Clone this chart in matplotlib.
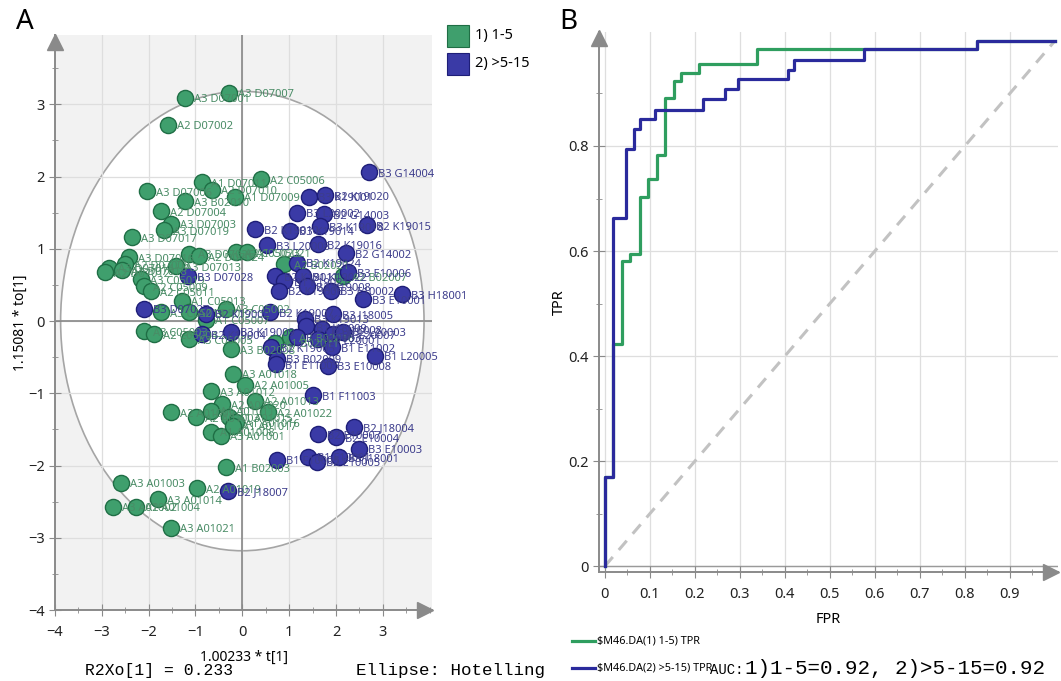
import matplotlib
matplotlib.use("Agg")
import matplotlib.pyplot as plt
from matplotlib.patches import Ellipse, Rectangle
from matplotlib.lines import Line2D
from matplotlib.ticker import MultipleLocator, FixedLocator

plt.rcParams['font.family'] = ['Noto Sans', 'DejaVu Sans']

# ---- datos panel A (OPLS-DA scores) ----
green_x = [-0.28, -1.22, -1.59, 0.39, -0.86, -0.64, -2.04, -0.15, -1.22, -1.74,
           -1.52, -1.67, -2.36, -2.42, -2.51, -2.85, -2.94, -2.58, -1.14, -0.92,
           -0.13, 0.09, -1.42, -2.17, -2.10, -1.95, -1.29, -1.74, -1.14, -0.77,
           -0.34, -2.10, -1.89, -1.14, -0.24, -0.19, 0.06, -0.67, 0.28, -0.43,
           -1.52, -0.99, -0.67, -0.28, -0.13, 0.54, -0.67, -0.45, -0.20, -0.34,
           -0.97, -2.60, -2.77, -2.27, -1.80, -1.52, 0.90, 2.15, 1.01, 0.70]
green_y = [3.16, 3.09, 2.72, 1.96, 1.92, 1.82, 1.80, 1.72, 1.66, 1.52,
           1.35, 1.26, 1.16, 0.88, 0.79, 0.74, 0.68, 0.70, 0.93, 0.90,
           0.95, 0.95, 0.76, 0.58, 0.48, 0.41, 0.28, 0.12, 0.12, 0.02,
           0.17, -0.14, -0.18, -0.25, -0.39, -0.73, -0.88, -0.97, -1.10, -1.15,
           -1.26, -1.33, -1.24, -1.33, -1.40, -1.26, -1.53, -1.59, -1.45, -2.02,
           -2.31, -2.24, -2.57, -2.57, -2.47, -2.86, 0.79, 0.62, -0.22, -0.30]
green_lab = ["A3 D07007", "A3 D07001", "A2 D07002", "A2 C05006", "A1 D07011",
             "A2 D07010", "A3 D07006", "A1 D07009", "A3 B02010", "A2 D07004",
             "A3 D07003", "A3 D07019", "A3 D07017", "A3 D07016", "A2 D07008",
             "A3 D07014", "A2 D07012", "A1 D07018", "A3 D07026", "A2 D07024",
             "A2 C05023", "A1 C05021", "A3 D07013", "A3 C05019", "A2 C05009",
             "A2 C05011", "A1 C05013", "A3 C05015", "A2 C05017", "A1 C05007",
             "A3 C05002", "A3 C05003", "A2 C05004", "A3 C05005", "A3 B02008",
             "A3 A01018", "A2 A01005", "A3 A01012", "A2 A01013", "A2 A01020",
             "A2 A01009", "A2 A01003", "A1 A01011", "A1 A01015", "A1 A01016",
             "A2 A01022", "A1 A01008", "A3 A01001", "A1 A01017", "A1 B02003",
             "A2 A01019", "A3 A01003", "A3 A01002", "A2 A01004", "A3 A01014",
             "A3 A01021", "A2 B02021", "A2 B02007", "A3 B02016", "A1 B02011"]

blue_x = [2.70, 1.42, 1.76, 1.16, 1.74, 2.66, 0.28, 1.01, 1.65, 0.52,
          1.61, 2.21, 1.16, 0.69, 0.90, 1.29, 0.79, 1.39, 1.89, 2.25,
          2.58, 3.41, 0.60, 1.93, 1.33, 1.37, 1.70, 1.93, 2.15, 0.62,
          0.73, 1.16, 1.61, 1.82, 2.83, 1.91, 0.71, -1.16, -2.10, -0.77,
          -0.86, -0.24, 1.50, 2.38, 1.61, 2.00, 2.49, 0.75, 1.40, 1.59,
          2.06, -0.30]
blue_y = [2.06, 1.72, 1.74, 1.50, 1.48, 1.33, 1.27, 1.25, 1.31, 1.05,
          1.06, 0.94, 0.81, 0.62, 0.55, 0.62, 0.42, 0.48, 0.42, 0.68,
          0.30, 0.37, 0.12, 0.10, 0.03, -0.07, -0.11, -0.18, -0.15, -0.36,
          -0.52, -0.22, -0.25, -0.62, -0.48, -0.36, -0.60, 0.62, 0.17, 0.10,
          -0.18, -0.15, -1.03, -1.46, -1.57, -1.61, -1.77, -1.92, -1.88, -1.95,
          -1.88, -2.35]
blue_lab = ["B3 G14004", "B3 K19001", "B2 K19020", "B3 L20002", "B2 G14003",
            "B2 K19015", "B2 K19010", "B3 K19014", "B3 K19018", "B3 L20008",
            "B2 K19016", "B2 G14002", "B2 K19024", "B2 K19011", "B1 K19021",
            "B1 K19022", "B2 K19006", "B2 K19008", "B3 E10002", "B3 E10006",
            "B3 E10001", "B3 H18001", "B2 K19007", "B3 J18005", "B3 K19013",
            "B1 J18009", "B3 J18008", "B1 L20007", "B2 L20003", "B2 K19005",
            "B3 B02009", "B1 K19003", "B1 L20001", "B3 E10008", "B1 L20005",
            "B1 E11002", "B1 E11005", "B3 D07028", "B3 D07027", "B2 K19002",
            "B2 K19004", "B3 K19009", "B1 F11003", "B2 J18004", "B2 E10007",
            "B2 E10004", "B3 E10003", "B1 F10005", "B1 F10001", "B2 E10005",
            "B3 J18001", "B2 J18007"]

# ---- datos panel B (ROC) ----
green_fpr = [0, 0, 0.0185, 0.0385, 0.0548, 0.078, 0.095, 0.115, 0.133, 0.153,
             0.170, 0.209, 0.339, 0.828, 1.0]
green_tpr = [0, 0.170, 0.423, 0.581, 0.594, 0.703, 0.737, 0.782, 0.891, 0.924,
             0.938, 0.956, 0.984, 1.0, 1.0]
blue_fpr = [0, 0, 0.0185, 0.048, 0.065, 0.078, 0.111, 0.218, 0.267, 0.296,
            0.407, 0.420, 0.576, 0.828, 1.0]
blue_tpr = [0, 0.170, 0.662, 0.794, 0.832, 0.851, 0.869, 0.889, 0.908, 0.928,
            0.945, 0.964, 0.984, 1.0, 1.0]

GREEN_F, GREEN_E, GREEN_T = "#3f9f6d", "#1f6e45", "#4a8c66"
BLUE_F, BLUE_E, BLUE_T = "#3a3aa6", "#1e1e78", "#3d3d8c"
AX_C = "#8a8a8a"
GRID_C = "#dedede"

fig = plt.figure(figsize=(10.61, 6.81), dpi=100)

# ================= Panel A =================
axA = fig.add_axes([55/1061, 71/681, 377/1061, 575/681])
axA.set_xlim(-4, 4.05)
axA.set_ylim(-4, 3.96)
axA.set_facecolor("#f2f2f2")
axA.add_patch(Ellipse((0, 0), 2*3.88, 2*3.18, facecolor="white",
                      edgecolor="#a5a5a5", lw=1.2, zorder=0.5))
for v in range(-3, 4):
    axA.axvline(v, color=GRID_C, lw=0.9, zorder=0.6)
    axA.axhline(v, color=GRID_C, lw=0.9, zorder=0.6)
axA.axvline(0, color="#8f8f8f", lw=1.3, zorder=0.7)
axA.axhline(0, color="#8f8f8f", lw=1.3, zorder=0.7)

axA.scatter(green_x, green_y, s=135, c=GREEN_F, edgecolors=GREEN_E, linewidths=1.0, zorder=2)
axA.scatter(blue_x, blue_y, s=135, c=BLUE_F, edgecolors=BLUE_E, linewidths=1.0, zorder=3)
for x, y, t in zip(green_x, green_y, green_lab):
    axA.annotate(t, (x, y), xytext=(6.5, -1.5), textcoords="offset points",
                 fontsize=8, color=GREEN_T, va="center", ha="left", zorder=4)
for x, y, t in zip(blue_x, blue_y, blue_lab):
    axA.annotate(t, (x, y), xytext=(6.5, -1.5), textcoords="offset points",
                 fontsize=8, color=BLUE_T, va="center", ha="left", zorder=4)

axA.xaxis.set_major_locator(FixedLocator([-4, -3, -2, -1, 0, 1, 2, 3]))
axA.yaxis.set_major_locator(FixedLocator([-4, -3, -2, -1, 0, 1, 2, 3]))
axA.xaxis.set_minor_locator(MultipleLocator(0.5))
axA.yaxis.set_minor_locator(MultipleLocator(0.5))
for s in ["top", "right"]:
    axA.spines[s].set_visible(False)
for s in ["left", "bottom"]:
    axA.spines[s].set_color(AX_C)
    axA.spines[s].set_linewidth(1.4)
axA.tick_params(which="major", direction="inout", length=8, color=AX_C,
                labelsize=10.5, labelcolor="#222222")
axA.tick_params(axis="x", which="major", pad=7)
axA.tick_params(which="minor", direction="inout", length=5, color=AX_C)
axA.plot([0], [0.988], marker="^", ms=11, color=AX_C, transform=axA.transAxes, clip_on=False)
axA.plot([0.981], [0], marker=">", ms=11, color=AX_C, transform=axA.transAxes, clip_on=False)
axA.set_xlabel("1.00233 * t[1]", fontsize=10, labelpad=7)
axA.set_ylabel("1.15081 * to[1]", fontsize=10, labelpad=0)

fig.text(25/1061, 1 - 22/681, "A", fontsize=20, ha="center", va="center")
fig.text(85/1061, 1 - 670/681, "R2Xo[1] = 0.233", family="Liberation Mono",
         fontsize=11.8, ha="left", va="center")
fig.text(356/1061, 1 - 670/681, "Ellipse: Hotelling", family="Liberation Mono",
         fontsize=12.6, ha="left", va="center")

# leyenda A
fig.patches.append(Rectangle((447/1061, 1 - 47/681), 22/1061, 22/681, transform=fig.transFigure,
                             facecolor=GREEN_F, edgecolor=GREEN_E, lw=0.8))
fig.patches.append(Rectangle((447/1061, 1 - 75/681), 22/1061, 22/681, transform=fig.transFigure,
                             facecolor=BLUE_F, edgecolor=BLUE_E, lw=0.8))
fig.text(475/1061, 1 - 36/681, "1) 1-5", fontsize=10.5, va="center")
fig.text(475/1061, 1 - 64/681, "2) >5-15", fontsize=10.5, va="center")

# ================= Panel B =================
axB = fig.add_axes([599/1061, 109/681, 459/1061, 540/681])
axB.set_xlim(-0.013, 1.007)
axB.set_ylim(-0.011, 1.017)
for v in [i / 10 for i in range(0, 10)]:
    axB.axvline(v, color=GRID_C, lw=0.9, zorder=0.5)
for v in [0, 0.2, 0.4, 0.6, 0.8]:
    axB.axhline(v, color=GRID_C, lw=0.9, zorder=0.5)
axB.axhline(0, color="#9a9a9a", lw=1.0, zorder=0.6)
axB.plot([0, 1], [0, 1], color="#c2c2c2", lw=2.2, dashes=(4, 3), zorder=1)
axB.step(green_fpr, green_tpr, where="post", color="#2f9e5f", lw=2.3, zorder=2)
axB.step(blue_fpr, blue_tpr, where="post", color="#2a2a9c", lw=2.3, zorder=3)

axB.xaxis.set_major_locator(FixedLocator([i / 10 for i in range(10)]))
axB.xaxis.set_minor_locator(FixedLocator([i / 20 for i in range(1, 20, 2)]))
axB.yaxis.set_major_locator(FixedLocator([0, 0.2, 0.4, 0.6, 0.8]))
axB.yaxis.set_minor_locator(FixedLocator([0.1, 0.3, 0.5, 0.7, 0.9]))
axB.set_xticklabels(["0", "0.1", "0.2", "0.3", "0.4", "0.5", "0.6", "0.7", "0.8", "0.9"])
axB.set_yticklabels(["0", "0.2", "0.4", "0.6", "0.8"])
for s in ["top", "right"]:
    axB.spines[s].set_visible(False)
for s in ["left", "bottom"]:
    axB.spines[s].set_color(AX_C)
    axB.spines[s].set_linewidth(1.4)
axB.tick_params(which="major", direction="inout", length=8, color=AX_C,
                labelsize=10.5, labelcolor="#222222")
axB.tick_params(axis="x", which="major", pad=7)
axB.tick_params(which="minor", direction="inout", length=5, color=AX_C)
axB.plot([0], [0.988], marker="^", ms=11, color=AX_C, transform=axB.transAxes, clip_on=False)
axB.plot([0.985], [0], marker=">", ms=11, color=AX_C, transform=axB.transAxes, clip_on=False)
axB.set_xlabel("FPR", fontsize=10.5, labelpad=7)
axB.set_ylabel("TPR", fontsize=10.5, labelpad=1)

fig.text(568/1061, 1 - 22/681, "B", fontsize=20, ha="center", va="center")

# leyenda B
fig.lines.append(Line2D([572/1061, 595/1061], [1 - 641/681] * 2, transform=fig.transFigure,
                        color="#2f9e5f", lw=2.3))
fig.lines.append(Line2D([572/1061, 595/1061], [1 - 668/681] * 2, transform=fig.transFigure,
                        color="#2a2a9c", lw=2.3))
fig.text(597/1061, 1 - 641/681, r"\$M46.DA(1) 1-5) TPR", fontsize=7.8, va="center")
fig.text(597/1061, 1 - 668/681, r"\$M46.DA(2) >5-15) TPR", fontsize=7.8, va="center")
fig.text(710/1061, 1 - 674/681, "AUC:", family="Liberation Mono", fontsize=10, va="baseline")
fig.text(745/1061, 1 - 674/681, "1)1-5=0.92, 2)>5-15=0.92", family="Liberation Mono",
         fontsize=15, va="baseline")

fig.savefig("out.png", dpi=100)
